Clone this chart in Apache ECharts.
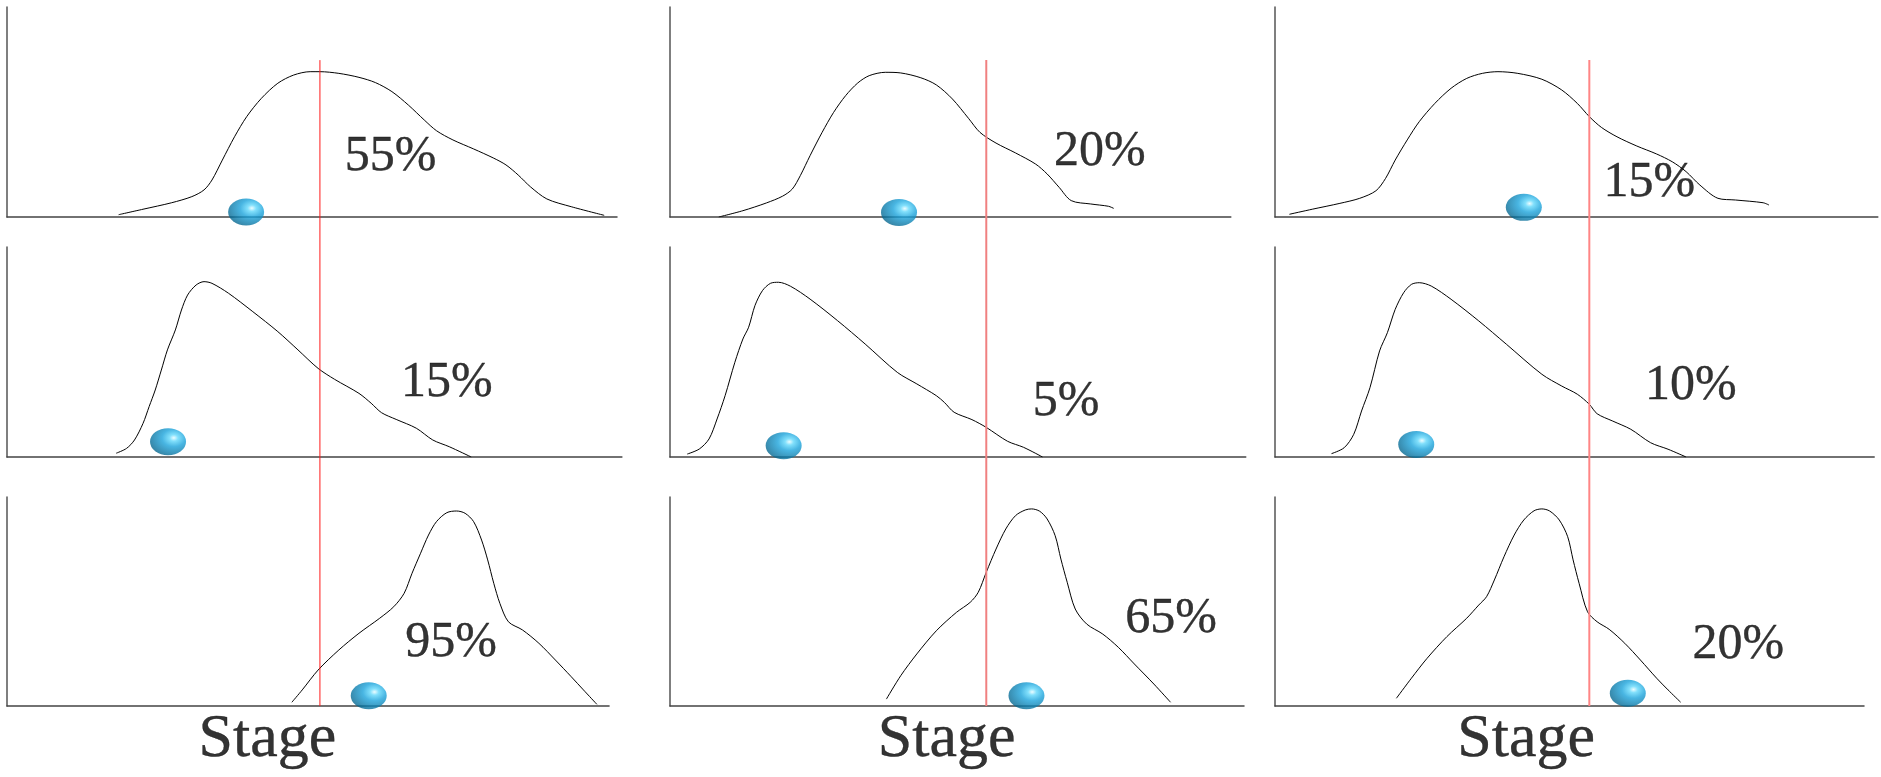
<!DOCTYPE html>
<html>
<head>
<meta charset="utf-8">
<script src="https://cdn.jsdelivr.net/npm/echarts@6/dist/echarts.min.js"></script>
<style>
  html, body { margin: 0; padding: 0; background: #ffffff; }
  #chart { width: 1881px; height: 777px; }
</style>
</head>
<body>
<div id="chart"></div>
<script>
// ---------- DATA (stage units 0..100 horizontally, density 0..100 vertically) ----------
// Density curves, one per panel (row, column)
const curveR1C1 = [[18.3,1.1],[22.3,3.7],[27.0,6.8],[30.3,9.7],[32.3,12.9],[33.6,17.6],[35.3,27.1],[37.3,38.2],[39.3,47.8],[41.7,56.5],[44.4,63.7],[47.0,67.6],[49.7,69.2],[51.3,69.2],[54.4,68.4],[57.7,66.5],[60.4,64.0],[63.1,59.7],[65.8,53.3],[68.4,46.2],[70.4,41.1],[73.1,36.7],[76.5,32.4],[79.8,28.0],[81.8,24.8],[83.8,20.0],[85.8,14.4],[88.5,8.6],[92.5,4.9],[97.9,0.8]];
const curveR1C2 = [[8.5,0.0],[12.7,3.0],[16.8,6.7],[19.6,9.9],[21.3,13.3],[22.7,19.7],[24.4,29.2],[26.5,40.3],[28.5,49.8],[30.6,57.8],[32.7,63.8],[34.7,67.3],[37.5,68.9],[40.2,68.6],[43.7,66.3],[46.4,62.9],[49.2,56.2],[52.0,47.0],[54.0,40.3],[56.8,35.2],[60.2,30.5],[63.7,25.2],[65.7,20.5],[67.8,14.1],[69.9,7.8],[73.3,6.2],[76.4,5.1],[77.3,4.1]];
const curveR1C3 = [[2.4,1.3],[6.2,3.7],[10.8,6.5],[14.1,8.9],[16.8,12.5],[18.4,18.4],[20.0,27.1],[22.0,36.7],[24.0,45.4],[26.6,54.1],[29.3,61.3],[31.9,66.0],[34.5,68.4],[37.1,69.2],[40.4,68.4],[44.4,65.6],[47.7,60.5],[50.3,54.1],[52.3,47.8],[54.3,42.7],[56.9,38.2],[60.2,33.8],[63.5,30.0],[66.1,26.3],[68.4,21.6],[70.7,15.2],[73.7,8.9],[76.6,8.1],[81.2,6.8],[82.2,5.7]];
const curveR2C1 = [[17.9,1.8],[19.6,4.1],[20.9,8.1],[22.3,16.0],[23.3,24.0],[24.3,31.9],[25.3,41.4],[26.3,51.0],[27.6,60.5],[28.6,70.0],[29.6,77.1],[31.0,81.9],[32.3,83.5],[33.6,82.7],[36.3,78.0],[40.3,69.2],[44.4,59.7],[47.7,51.0],[51.0,42.2],[53.7,37.0],[57.7,30.3],[59.7,25.6],[61.4,21.1],[63.8,17.9],[67.1,13.7],[69.8,8.1],[72.5,4.9],[76.1,0.0]];
const curveR2C2 = [[3.0,1.4],[5.1,3.8],[6.8,8.6],[8.2,18.1],[9.6,29.2],[11.3,45.1],[12.7,56.2],[13.7,61.8],[14.8,72.1],[16.1,79.2],[17.5,82.7],[18.9,83.2],[21.0,81.3],[24.4,75.2],[29.2,64.9],[34.0,53.8],[39.6,40.3],[43.0,34.8],[46.4,29.2],[47.8,26.0],[49.5,21.3],[52.6,17.8],[55.1,14.1],[58.8,7.5],[61.6,4.6],[64.9,0.0]];
const curveR2C3 = [[9.4,1.6],[11.5,4.4],[13.1,10.8],[14.4,21.9],[15.8,33.0],[17.4,50.5],[18.7,59.2],[20.0,70.3],[21.4,78.2],[22.7,82.2],[24.0,83.0],[26.0,81.4],[29.3,75.1],[33.9,64.8],[38.5,53.7],[44.4,39.4],[47.7,33.8],[50.3,29.9],[52.3,25.1],[53.6,20.6],[56.2,17.1],[59.2,13.2],[62.5,6.8],[65.4,3.7],[68.4,0.0]];
const curveR3C1 = [[46.7,1.8],[48.4,7.7],[51.0,17.2],[54.4,26.8],[57.7,34.8],[61.1,42.0],[63.4,47.5],[65.1,53.9],[66.4,63.5],[67.8,73.1],[69.1,81.8],[70.4,88.2],[72.1,92.5],[73.7,93.3],[75.1,92.2],[76.5,88.2],[77.8,79.4],[78.8,69.9],[79.8,58.7],[80.8,49.1],[82.2,40.3],[84.5,36.4],[87.2,30.0],[89.9,22.0],[92.5,14.0],[94.5,7.7],[96.7,0.8]];
const curveR3C2 = [[37.7,3.3],[40.2,14.5],[43.0,24.9],[46.4,36.0],[49.9,44.8],[52.3,49.6],[53.7,54.4],[55.1,64.0],[56.8,75.1],[58.5,84.7],[60.2,91.1],[61.9,93.8],[63.0,94.3],[64.4,93.2],[65.7,89.5],[67.1,81.5],[68.1,70.3],[69.2,59.2],[70.6,46.4],[72.6,39.2],[75.4,34.4],[78.1,28.1],[80.9,20.1],[84.3,10.5],[87.2,1.8]];
const curveR3C3 = [[20.2,3.7],[22.7,13.3],[25.3,22.8],[28.6,33.2],[31.9,42.0],[33.9,48.3],[35.2,52.3],[36.5,60.3],[38.1,71.4],[39.8,81.8],[41.4,89.0],[43.1,93.4],[44.4,94.3],[45.7,93.3],[47.3,89.0],[48.7,81.0],[49.6,69.9],[50.6,58.7],[52.0,45.1],[53.6,40.3],[55.6,36.7],[58.2,30.0],[60.8,22.0],[63.5,13.3],[65.4,7.7],[67.5,1.8]];

// Current-stage markers (balls), per panel row by row
const ballPoints = [
  [[39.2,2.4],[39.9,2.2],[41.4,4.6]],
  [[26.4,7.3],[19.8,5.4],[23.5,6.0]],
  [[59.3,4.9],[62.1,4.9],[58.7,6.1]]
];

// Probability labels per panel and where they sit
const pctText = [
  ['55%','20%','15%'],
  ['15%','5%','10%'],
  ['95%','65%','20%']
];
const pctAt = [
  [[62.9,28.6],[74.9,31.0],[62.3,16.2]],
  [[72.1,35.2],[69.0,26.2],[69.2,33.8]],
  [[72.8,30.1],[87.3,41.6],[77.1,29.2]]
];

// Threshold (red line) per column, and its vertical span (0..100 of column height)
const thresholds = [51.3, 55.1, 52.3];
const thresholdSpan = [0, 92.4];

// Axis title per column
const axisTitle = 'Stage';
const axisTitleAt = [[42.7,-16.3],[48.2,-16.3],[41.8,-16.3]];

// Axis extents per panel (row, column)
const panelXMax = [
  [100, 97.7, 100.3],
  [100.8, 100.3, 99.7],
  [98.7, 100, 98.0]
];

// ---------- LAYOUT ----------
const colLeft = [7, 670, 1275];
const colWidth = [610, 574, 601];
const rowTop = [7, 247, 497];
const rowHeight = [210, 210, 209];
const curves = [
  [curveR1C1, curveR1C2, curveR1C3],
  [curveR2C1, curveR2C2, curveR2C3],
  [curveR3C1, curveR3C2, curveR3C3]
];
const redColors = ['#ff1a1a', '#f08080', '#ff8585'];
const redWidths = [1, 2, 2];

const ballColor = {
  type: 'radial', x: 0.66, y: 0.36, r: 0.85,
  colorStops: [
    { offset: 0, color: '#e8fcff' },
    { offset: 0.14, color: '#62d8fb' },
    { offset: 0.38, color: '#1ba3db' },
    { offset: 0.7, color: '#0a78a6' },
    { offset: 1, color: '#03506f' }
  ]
};

const textLabel = (size) => ({
  show: true, position: 'inside', formatter: '{b}',
  fontFamily: '"Liberation Serif", "Times New Roman", serif', fontSize: size, color: '#000000',
  textBorderWidth: 0.4, textBorderColor: '#000000', textShadowBlur: 0
});

const grid = [], xAxis = [], yAxis = [], series = [];
for (let r = 0; r < 3; r++) {
  for (let c = 0; c < 3; c++) {
    const idx = grid.length;
    const xm = panelXMax[r][c];
    grid.push({ left: colLeft[c], top: rowTop[r], width: colWidth[c] * xm / 100, height: rowHeight[r] });
    xAxis.push({
      gridIndex: idx, type: 'value', min: 0, max: xm,
      axisLine: { show: true, onZero: false, lineStyle: { color: '#444', width: 1.5 } },
      axisTick: { show: false }, axisLabel: { show: false }, splitLine: { show: false }
    });
    yAxis.push({
      gridIndex: idx, type: 'value', min: 0, max: 100,
      axisLine: { show: true, lineStyle: { color: '#555', width: 1.5 } },
      axisTick: { show: false }, axisLabel: { show: false }, splitLine: { show: false }
    });
    series.push({
      type: 'line', xAxisIndex: idx, yAxisIndex: idx,
      data: curves[r][c], smooth: 0.3, symbol: 'none', silent: true,
      lineStyle: { color: '#000', width: 1 }, z: 3
    });
    series.push({
      type: 'scatter', xAxisIndex: idx, yAxisIndex: idx, clip: false,
      data: [ballPoints[r][c]], symbol: 'circle', symbolSize: [36, 27],
      itemStyle: { color: ballColor }, silent: true, z: 5
    });
    series.push({
      type: 'scatter', xAxisIndex: idx, yAxisIndex: idx, clip: false,
      data: [{ value: pctAt[r][c], name: pctText[r][c] }],
      symbolSize: 1, itemStyle: { color: 'rgba(0,0,0,0)' }, silent: true, z: 6,
      label: textLabel(50)
    });
    if (r === 2) {
      series.push({
        type: 'scatter', xAxisIndex: idx, yAxisIndex: idx, clip: false,
        data: [{ value: axisTitleAt[c], name: axisTitle }],
        symbolSize: 1, itemStyle: { color: 'rgba(0,0,0,0)' }, silent: true, z: 6,
        label: textLabel(62)
      });
    }
  }
}
// Column overlays for the threshold lines spanning all three rows
for (let c = 0; c < 3; c++) {
  const idx = grid.length;
  grid.push({ left: colLeft[c], top: rowTop[0], width: colWidth[c], height: rowTop[2] + rowHeight[2] - rowTop[0] });
  xAxis.push({ gridIndex: idx, type: 'value', min: 0, max: 100, show: false });
  yAxis.push({ gridIndex: idx, type: 'value', min: 0, max: 100, show: false });
  series.push({
    type: 'line', xAxisIndex: idx, yAxisIndex: idx, silent: true, symbol: 'none',
    data: [[thresholds[c], thresholdSpan[0]], [thresholds[c], thresholdSpan[1]]],
    lineStyle: { color: redColors[c], width: redWidths[c] }, z: 4
  });
}

const chart = echarts.init(document.getElementById('chart'), null, { renderer: 'canvas' });
chart.setOption({
  backgroundColor: '#ffffff',
  animation: false,
  grid, xAxis, yAxis, series
});
</script>
</body>
</html>
